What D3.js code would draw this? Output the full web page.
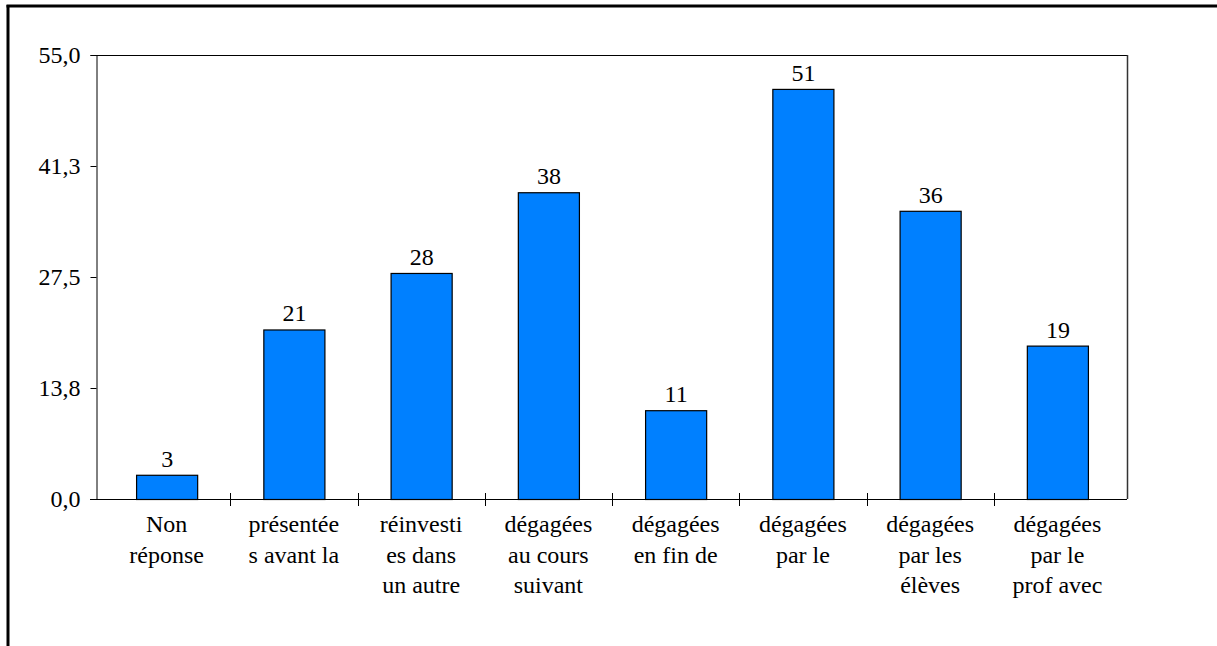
<!DOCTYPE html>
<html><head><meta charset="utf-8">
<script src="https://cdn.jsdelivr.net/npm/d3@7"></script>
</head><body style="margin:0;background:#fff">
<script>
const categories = [
  ["Non","réponse"],
  ["présentée","s avant la"],
  ["réinvesti","es dans","un autre"],
  ["dégagées","au cours","suivant"],
  ["dégagées","en fin de"],
  ["dégagées","par le"],
  ["dégagées","par les","élèves"],
  ["dégagées","par le","prof avec"]
];
const values = [3, 21, 28, 38, 11, 50.8, 35.7, 19];
const yTicks = [0, 13.75, 27.5, 41.25, 55];

(function () {
const FONT = "'Liberation Serif'";
const W = 1217, H = 646;
const svg = d3.select("body").append("svg").attr("width", W).attr("height", H)
  .style("display", "block").style("font-family", FONT);

// outer border
svg.append("line").attr("x1", 8).attr("x2", 8).attr("y1", 5).attr("y2", H).attr("stroke", "#000").attr("stroke-width", 3);
svg.append("line").attr("x1", 6.5).attr("x2", W).attr("y1", 6).attr("y2", 6).attr("stroke", "#000").attr("stroke-width", 3);

const pLeft = 96, pRight = 1127, pTop = 55, pBottom = 499;
const x = d3.scaleBand().domain(d3.range(categories.length)).range([103, 1121]).paddingInner(0.52).paddingOuter(0.26);
const xTick = d3.scaleBand().domain(d3.range(categories.length)).range([103, 1121]);
const y = d3.scaleLinear().domain([0, 55]).range([pBottom, pTop]);

// frame top & right
svg.append("line").attr("x1", pLeft).attr("x2", pRight).attr("y1", pTop + 0.5).attr("y2", pTop + 0.5).attr("stroke", "#000");
svg.append("line").attr("x1", pRight + 0.5).attr("x2", pRight + 0.5).attr("y1", pTop).attr("y2", pBottom).attr("stroke", "#333").attr("stroke-width", 1.5);

// y axis
const yAxis = d3.axisLeft(y).tickValues(yTicks).tickSize(6).tickPadding(10)
  .tickFormat(d => d3.format(".1f")(d).replace(".", ","));
const ya = svg.append("g").attr("transform", `translate(${pLeft + 0.5},0)`).call(yAxis)
  .attr("font-family", null).attr("font-size", null);
ya.select(".domain").attr("stroke", "#000");
ya.selectAll(".tick line").attr("stroke", "#000");
ya.selectAll(".tick text").style("font-size", "24px").style("font-family", FONT).attr("fill", "#000");

// bars
svg.selectAll("rect.bar").data(values).enter().append("rect")
  .attr("x", (d, i) => x(i) + 0.5).attr("width", x.bandwidth())
  .attr("y", d => y(d) + 0.5).attr("height", d => pBottom - y(d))
  .attr("fill", "#0080FF").attr("stroke", "#000").attr("stroke-width", 1.2);

// x axis baseline and ticks
svg.append("line").attr("x1", pLeft - 6).attr("x2", pRight).attr("y1", pBottom + 0.5).attr("y2", pBottom + 0.5).attr("stroke", "#000");
svg.selectAll("line.xt").data(d3.range(1, categories.length)).enter().append("line")
  .attr("x1", i => Math.round(xTick(i)) + 0.5).attr("x2", i => Math.round(xTick(i)) + 0.5)
  .attr("y1", pBottom - 6).attr("y2", pBottom + 7).attr("stroke", "#000");

// value labels
svg.selectAll("text.val").data(values).enter().append("text")
  .attr("x", (d, i) => x(i) + x.bandwidth() / 2 + 0.5).attr("y", d => y(d) - 8)
  .attr("text-anchor", "middle").style("font-size", "24px").style("font-family", FONT).attr("fill", "#000")
  .text(d => Math.round(d));

// category labels
const lab = svg.selectAll("text.cat").data(categories).enter().append("text")
  .attr("text-anchor", "middle").style("font-size", "24px").style("font-family", FONT).attr("fill", "#000");
lab.each(function(lines, i) {
  const cx = xTick(i) + xTick.bandwidth() / 2;
  d3.select(this).selectAll("tspan").data(lines).enter().append("tspan")
    .attr("x", cx).attr("y", (l, j) => 532 + j * 30.5).text(l => l);
});
})();
</script>
</body></html>
